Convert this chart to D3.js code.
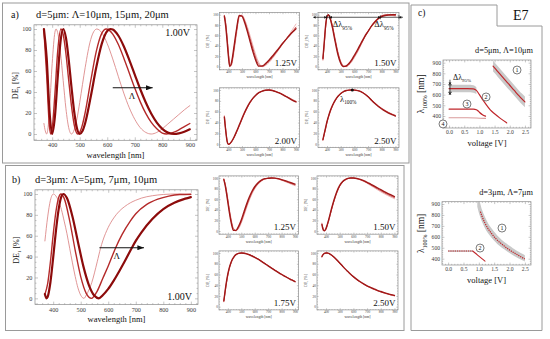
<!DOCTYPE html>
<html>
<head>
<meta charset="utf-8">
<script src="https://cdn.jsdelivr.net/npm/d3@7"></script>
<style>
  body { margin: 0; background: #fff; }
  svg { display: block; }
</style>
</head>
<body>
<svg id="fig" width="550" height="339"></svg>
<script>
// ---------- data ----------
// panel a, d=5um, 1.00V (three grating periods)
const aWlThin  = [370,375,380,385,390,400,410,414,420,430,440,450,460,470,480,490,500,510,520,540,562,580,600,620,640,660,680,700,720,740,760,780,800,820,840,860,880,900];
const aDeThin  = [10,3,0,6,22,67,97,100,96.5,78,51,24,6,0,4,14.5,30,47,63.5,90,100,96.5,86,71.5,55,39,25,14,6,1.5,0,1.5,5,9.5,14,18.5,23,27];
const aWlMid   = [370,380,390,395,400,410,420,432,440,450,460,470,480,493,500,510,520,540,560,580,596,620,640,660,680,700,720,740,760,780,800,815,840,860,880,900];
const aDeMid   = [98.5,56,7.3,0,5,38.6,78.7,100,94.8,76.4,51.2,27,8.8,0,1.6,8.9,20.6,50.5,78.4,95.8,100,95.2,85.4,72.4,58.1,43.7,30.6,19.6,11,4.9,0.8,0,1.5,4,7,10];
const aWlThick = [370,380,390,400,410,420,430,440,450,460,470,480,490,500,510,520,540,560,580,600,612,620,640,660,680,700,720,740,760,780,800,820,843,860,880,900];
const aDeThick = [100,72.6,22.8,0,16.7,53.6,87.2,100,91.7,70.9,45,21.2,5.4,0,2.8,10.5,35.4,63.3,85.8,98.1,100,99.5,93.8,83.6,70.6,56.5,42.6,30,19.2,10.8,4.9,1.3,0,0.6,2.2,4.5];

// panel b, d=3um, 1.00V
const bWlThin  = [370,380,390,401,410,420,430,440,450,460,470,480,490,500,512,520,540,560,572,580,600,620,640,660,680,700,720,760,800,850,900];
const bDeThin  = [55,78,94,100,98,93,85,74,62,48,34,21,10,3,0,3,15,35,48,55,68,77,83.5,88,91.5,94,96,98.3,99.5,100,99.3];
const bWlMid   = [370,380,390,400,410,420,428,440,460,480,500,520,539,560,580,600,627,650,680,700,740,780,820,860,900];
const bDeMid   = [4,14,35,61,83,96.6,100,95.8,74.3,46,20.8,4.8,0,7,19,31,48.5,61,74,81,90,95,98,99.5,99.8];
const bWlThick = [370,376,380,390,400,410,420,430,437,450,470,490,510,530,550,566,580,600,620,640,660,686,700,720,760,800,840,880,900];
const bDeThick = [4,0,1.4,15.4,39,64.6,85.5,97.6,100,96.1,78.4,54,30.4,12.5,2.4,0,3,9,17,26,35.5,48.5,55,63,76,85.5,91.5,95.5,97];

// small plots share one wavelength grid
const wlSmall = [370,380,390,400,410,420,430,440,460,480,500,520,540,560,580,600,625,650,675,700,725,750,775,800,825,850,875,900];
const a125Thick = [97,78,50,20,0.3,5,18,36,72,98.5,97,85,68,49,30,14,1,1.5,6,12.5,20,28,36,44.5,52,59.5,66.5,73];
const a125Mid   = [98,82,55,25,2,3,14,31,68,97,98,88,72,54,36,19,4,0.5,4,10,17.5,26,35,44,52.5,60.5,68,76];
const a125Thin  = [99,86,61,31,5,1.5,10,26,62,94,99.5,91,77,60,42,25,8,0,2.5,8,15.5,24,33.5,43,52.5,62,72,82];
const a150Thick = [16,48,80,97,99.8,95,86,74.5,47.5,23,6.7,0.2,1.5,6,13,22,33.5,46,58,68,78,86,92.5,96.5,98.5,99.5,100,100];
const a150Mid   = [14,45,78,96,99.9,96,87,76.5,50.5,26,9,1,0.5,4.5,11.5,19.5,31,44,57,68,78.5,87,93.5,97.5,99.3,99.8,99.5,99];
const a150Thin  = [12,42,75,95,100,97,89,79,54,29,11,2,0,3,9,17.5,29,42.5,56,68,79,88,94.5,98.5,100,99.5,98.5,97];
const a200Thick = [50,25,6,0,1.2,4.1,8,12.5,23.5,35.5,47.7,59,69,77.5,84.6,90,95,98,99.6,100,99,97,94.5,91.5,88,84.5,81,78];
const a200Mid   = [51,26.5,7,0.2,0.8,3.5,7.2,11.7,22.5,34.2,46.3,57.7,68,76.7,84,89.5,94.7,97.7,99.5,100,99.2,97.3,94.8,91.9,88.6,85.1,81.7,78.7];
const a200Thin  = [53,28,8,0.5,0.5,3,6.5,11,21.5,33,45,56.5,67,76,83.5,89,94.5,97.5,99.4,100,99.3,97.5,95.2,92.4,89.2,85.8,82.5,79.5];
const a250Thick = [9,20,31,42,51,59,66,72,81.5,88.5,93.5,97,99,99.8,100,99.8,98.8,96.5,92.5,87.5,81,75,69.5,65,61,57.5,54.5,52];
const a250Mid   = [8,19,30,41,50,58,65,71,80.7,88,93,96.7,98.8,99.7,100,99.8,98.9,96.7,92.9,88,81.7,75.8,70.3,65.8,61.8,58.3,55.3,52.8];
const a250Thin  = [7,18,29,40,49,57,64,70,80,87.5,92.5,96.4,98.6,99.6,100,99.9,99,97,93.3,88.6,82.4,76.6,71.1,66.6,62.6,59.1,56.1,53.6];
const b125Thick = [97,86,71,54,37,22,10,1.5,1.2,9,21,36,51,64,75,83.5,91,96,98.8,99.5,100,99.8,98.8,97,95,92.8,90.6,88.5];
const b125Mid   = [98,88,74,57.5,40.5,25.5,13,4.5,0.8,6.5,18,32.5,47.5,61,72.5,81.5,89.5,95,98.2,99.5,100,99.6,98.4,96.4,94.2,91.8,89.4,87];
const b125Thin  = [99,90,77,61,44,29,16,6.5,0.3,4.5,15,29,44,58,70,79.5,88,94,97.8,99.4,100,99.4,98,95.8,93.3,90.7,88,85.5];
const b150Thick = [12,2,0.5,5,13,22,32,42,60,75,86,93,97,99.3,100,100,99.2,97.5,95,92,88.5,85,81.5,78,74.5,71,68,65];
const b150Mid   = [13.5,3.5,0.7,4,11.5,20.5,30.5,40.5,58.5,73.5,85,92.2,96.5,99,100,99.9,99,97,94.2,91,87.2,83.5,79.8,76,72.5,69,66,63];
const b150Thin  = [15,5,1,3,10,19,29,39,57,72,84,91.5,96,98.8,100,99.8,98.8,96.5,93.5,90,86,82,78,74,70.5,67,64,61];
const b175Thick = [11,30,47,61,72,80,86.5,91,97,99.5,100,99.6,98.5,96.8,94.5,92,88.5,84.5,80.3,76,71.8,67.7,63.8,60,56.5,53,49.8,46.5];
const b175Mid   = [10,28.5,45.5,59.5,70.8,79,85.8,90.5,96.8,99.4,100,99.7,98.6,97,94.8,92.3,88.8,84.8,80.6,76.4,72.2,68.1,64.2,60.4,56.8,53.4,50.1,46.9];
const b175Thin  = [9,27,44,58,69.5,78,85,90,96.5,99.3,100,99.8,98.8,97.2,95,92.6,89.2,85.2,81,76.8,72.6,68.5,64.6,60.8,57.2,53.8,50.5,47.3];
const b250Thick = [93,97.5,99.5,100,100,99.3,98,96.3,92,87,81.5,76,70.5,65.5,60.5,56,51,46.5,42.5,39,36,33,30.5,28.3,26.2,24.3,22.5,21];
const b250Mid   = [94,98,99.7,100,99.9,99.1,97.7,96,91.6,86.6,81,75.5,70,65,60,55.5,50.5,46,42,38.5,35.5,32.5,30,27.8,25.7,23.8,22,20.5];
const b250Thin  = [95,98.5,99.8,100,99.8,98.9,97.4,95.6,91.2,86.1,80.5,75,69.5,64.5,59.5,55,50,45.5,41.5,38,35,32,29.5,27.3,25.2,23.3,21.5,20];

// panel c, upper (d=5um, period 10um): lambda_100% vs voltage
const c1V    = [1.45,1.5,1.6,1.7,1.8,1.9,2.0,2.1,2.2,2.3,2.4,2.5];
const c1Lam  = [868,852,818,785,752,720,688,655,622,590,560,532];
const c1Lo   = [818,802,768,735,702,670,638,605,572,540,510,482];
const c1Hi   = [918,902,868,835,802,770,738,705,672,640,610,582];
const c2V    = [0,0.2,0.4,0.6,0.8,0.9,1.0,1.1,1.2,1.35,1.5,1.7,1.9];
const c2Lam  = [656,656,656,656,655,640,600,555,515,460,420,375,335];
const c2BandV  = [0,0.2,0.4,0.6,0.8,0.9];
const c2BandLo = [622,622,622,622,618,606];
const c2BandHi = [692,692,692,692,688,670];
const c3V    = [0,0.2,0.4,0.6,0.8,0.9,0.95,1.0,1.1,1.2];
const c3Lam  = [465,465,465,465,464,458,448,435,412,398];
const c4V    = [0,0.3,0.6,0.9,1.2];
const c4Lam  = [383,383,383,381,377];
// panel c, lower (d=3um, period 7um)
const d1V    = [1.05,1.1,1.2,1.3,1.4,1.5,1.6,1.7,1.8,1.9,2.0,2.1,2.2,2.3,2.4,2.5];
const d1Lam  = [830,790,725,675,635,600,570,545,522,500,480,462,445,428,412,397];
const d1BandV  = [0.95,1.0,1.1,1.2,1.3,1.4,1.5,1.6,1.7,1.8,1.9,2.0,2.1,2.2,2.3,2.4,2.5];
const d1BandLo = [875,820,740,678,632,595,563,535,512,490,470,451,434,418,402,387,373];
const d1BandHi = [930,930,850,780,725,682,645,612,585,560,538,517,498,480,463,447,432];
const d2FlatV  = [0,0.2,0.4,0.6,0.8];
const d2FlatLam = [470,470,470,470,470];
const d2DropV  = [0.8,0.9,1.0,1.1,1.2];
const d2DropLam = [470,447,423,400,378];

// ticks
const wlTicks  = [400,500,600,700,800,900];
const wlMinor  = [340,360,380,420,440,460,480,520,540,560,580,620,640,660,680,720,740,760,780,820,840,860,880,920];
const deTicks  = [0,20,40,60,80,100];
const deMinor  = [-5,5,10,15,25,30,35,45,50,55,65,70,75,85,90,95];
const vTicks   = [0,0.5,1,1.5,2,2.5];
const vMinor   = [-0.1,0.1,0.2,0.3,0.4,0.6,0.7,0.8,0.9,1.1,1.2,1.3,1.4,1.6,1.7,1.8,1.9,2.1,2.2,2.3,2.4,2.6];
const lamTicks = [400,500,600,700,800,900];
const lamMinor = [300,320,340,360,380,420,440,460,480,520,540,560,580,620,640,660,680,720,740,760,780,820,840,860,880,920];

// ---------- drawing ----------
const FONT = "'Liberation Serif','DejaVu Serif',serif";
const frameCol = "#8c8c8c";
const cThin = "#dc8a8a", cMid = "#b42a2a", cThick = "#8c0b0b";
const sThin = "#eba3a3", sMid = "#c43a3a", sThick = "#a01818";
const cRed = "#c0262b", cBand = "#c9c9c9";

const svg = d3.select("#fig").attr("font-family", FONT);
const defs = svg.append("defs");
defs.append("marker").attr("id", "arr")
  .attr("viewBox", "0 0 8 6").attr("refX", 8).attr("refY", 3)
  .attr("markerWidth", 7).attr("markerHeight", 5).attr("markerUnits", "userSpaceOnUse")
  .attr("orient", "auto")
  .append("path").attr("d", "M0,0L8,3L0,6Z").attr("fill", "#111");

// boxes
const boxStroke = "#9a9a9a";
svg.append("rect").attr("x", 2.5).attr("y", 3).attr("width", 406.5).attr("height", 160)
  .attr("fill", "none").attr("stroke", boxStroke);
svg.append("rect").attr("x", 5.5).attr("y", 165.5).attr("width", 398.5).attr("height", 165)
  .attr("fill", "none").attr("stroke", boxStroke);
svg.append("path").attr("d", "M411,5H497V26H542V330.5H411Z")
  .attr("fill", "none").attr("stroke", boxStroke);

let clipN = 0;
function makePlot(p) {
  const x = d3.scaleLinear().domain(p.xd).range([p.x0, p.x1]);
  const y = d3.scaleLinear().domain(p.yd).range([p.y1, p.y0]);
  const id = "clip" + (clipN++);
  defs.append("clipPath").attr("id", id).append("rect")
    .attr("x", p.x0).attr("y", p.y0).attr("width", p.x1 - p.x0).attr("height", p.y1 - p.y0);
  const g = svg.append("g");
  const none = () => "";
  const put = (axis, sc, tx, ty, vals, len, fmt) => {
    const d = sc.domain();
    const a = g.append("g").attr("transform", `translate(${tx},${ty})`)
      .call(axis.tickValues(vals.filter(v => v >= d[0] && v <= d[1]))
        .tickSize(-len).tickSizeOuter(0).tickPadding(p.pad).tickFormat(fmt));
    a.select(".domain").remove();
    a.selectAll("line").attr("stroke", frameCol).attr("stroke-width", 0.5);
    a.selectAll("text").attr("font-family", FONT).attr("font-size", p.fs).attr("fill", "#3a3a3a");
  };
  put(d3.axisBottom(x), x, 0, p.y1, p.xt, p.tl, p.xf);
  put(d3.axisBottom(x), x, 0, p.y1, p.xm, p.tl / 2, none);
  put(d3.axisTop(x), x, 0, p.y0, p.xt, p.tl, none);
  put(d3.axisTop(x), x, 0, p.y0, p.xm, p.tl / 2, none);
  put(d3.axisLeft(y), y, p.x0, 0, p.yt, p.tl, p.yf);
  put(d3.axisLeft(y), y, p.x0, 0, p.ym, p.tl / 2, none);
  put(d3.axisRight(y), y, p.x1, 0, p.yt, p.tl, none);
  put(d3.axisRight(y), y, p.x1, 0, p.ym, p.tl / 2, none);
  const data = g.append("g").attr("clip-path", `url(#${id})`);
  g.append("rect").attr("x", p.x0).attr("y", p.y0)
    .attr("width", p.x1 - p.x0).attr("height", p.y1 - p.y0)
    .attr("fill", "none").attr("stroke", frameCol).attr("stroke-width", 0.7);
  return { x, y, g, data, p };
}

function line(P, xs, ys, col, w, dash) {
  const pts = xs.map((v, i) => [v, ys[i]]);
  const path = P.data.append("path")
    .attr("d", d3.line().x(d => P.x(d[0])).y(d => P.y(d[1])).curve(d3.curveMonotoneX)(pts))
    .attr("fill", "none").attr("stroke", col).attr("stroke-width", w)
    .attr("stroke-linejoin", "round").attr("stroke-linecap", "round");
  if (dash) path.attr("stroke-dasharray", dash).attr("stroke-linecap", "butt");
}

function band(P, xs, lo, hi, col) {
  const pts = xs.map((v, i) => [v, lo[i], hi[i]]);
  P.data.append("path")
    .attr("d", d3.area().x(d => P.x(d[0])).y0(d => P.y(d[1])).y1(d => P.y(d[2])).curve(d3.curveMonotoneX)(pts))
    .attr("fill", col);
}

// text with subscript parts: [[string, isSub], ...]
function rich(parent, x, y, parts, size, opt) {
  opt = opt || {};
  const t = parent.append("text").attr("x", x).attr("y", y)
    .attr("font-size", size).attr("fill", opt.fill || "#111");
  if (opt.anchor) t.attr("text-anchor", opt.anchor);
  if (opt.rotate) t.attr("transform", `rotate(-90,${x},${y})`);
  let shift = 0;
  parts.forEach(([s, sub]) => {
    const dy = sub ? size * 0.3 : 0;
    t.append("tspan").attr("dy", dy - shift).attr("font-size", sub ? size * 0.62 : size).text(s);
    shift = dy;
  });
  return t;
}

function tri(g, x, y, dir, s) {
  // small filled arrowhead with tip at (x,y)
  const pts = {
    right: [[x, y], [x - s * 1.6, y - s], [x - s * 1.6, y + s]],
    left:  [[x, y], [x + s * 1.6, y - s], [x + s * 1.6, y + s]],
    down:  [[x, y], [x - s, y - s * 1.6], [x + s, y - s * 1.6]],
    up:    [[x, y], [x - s, y + s * 1.6], [x + s, y + s * 1.6]]
  }[dir];
  g.append("path").attr("d", "M" + pts.join("L") + "Z").attr("fill", "#111");
}

function circled(P, vx, vy, label) {
  const cx = P.x(vx), cy = P.y(vy);
  P.g.append("circle").attr("cx", cx).attr("cy", cy).attr("r", 4)
    .attr("fill", "#fff").attr("stroke", "#222").attr("stroke-width", 0.6);
  P.g.append("text").attr("x", cx).attr("y", cy + 2.1).attr("text-anchor", "middle")
    .attr("font-size", 6).attr("fill", "#111").text(label);
}

// ---------- main plots ----------
function mainPlot(x0, x1, y0, y1) {
  const P = makePlot({ x0, x1, y0, y1, xd: [334, 926], yd: [-6, 104],
    xt: wlTicks, xm: wlMinor, yt: deTicks, ym: deMinor,
    fs: 6.2, pad: 2.6, tl: 3, xf: d3.format("d"), yf: d3.format("d") });
  rich(svg, (x0 + x1) / 2, y1 + 17.5, [["wavelength [nm]"]], 8.5, { anchor: "middle" });
  rich(svg, x0 - 16, (y0 + y1) / 2 + 3, [["DE"], ["1", true], [" [%]"]], 8, { anchor: "middle", rotate: true });
  return P;
}

const A = mainPlot(34, 197, 24.8, 140.3);
line(A, aWlThin, aDeThin, cThin, 0.9);
line(A, aWlMid, aDeMid, cMid, 1.4);
line(A, aWlThick, aDeThick, cThick, 2.2);
A.g.append("line").attr("x1", A.x(620)).attr("x2", A.x(765)).attr("y1", A.y(44)).attr("y2", A.y(44))
  .attr("stroke", "#111").attr("stroke-width", 1.1).attr("marker-end", "url(#arr)");
rich(A.g, A.x(690), A.y(33), [["Λ"]], 9, { anchor: "middle" });
rich(A.g, 190, 35.8, [["1.00V"]], 10, { anchor: "end" });
rich(svg, 11, 18, [["a)"]], 10);
rich(svg, 36, 18, [["d=5μm: Λ=10μm, 15μm, 20μm"]], 10.5);

const B = mainPlot(35, 198, 189.8, 304.6);
line(B, bWlThin, bDeThin, cThin, 0.9);
line(B, bWlMid, bDeMid, cMid, 1.4);
line(B, bWlThick, bDeThick, cThick, 2.2);
B.g.append("line").attr("x1", B.x(568)).attr("x2", B.x(730)).attr("y1", B.y(48.5)).attr("y2", B.y(48.5))
  .attr("stroke", "#111").attr("stroke-width", 1.1).attr("marker-end", "url(#arr)");
rich(B.g, B.x(631), B.y(37.5), [["Λ"]], 9, { anchor: "middle" });
rich(B.g, 192, 300, [["1.00V"]], 10, { anchor: "end" });
rich(svg, 12, 183, [["b)"]], 10);
rich(svg, 35, 183, [["d=3μm: Λ=5μm, 7μm, 10μm"]], 10.5);

// ---------- small plots ----------
function smallPlot(x0, x1, y0, y1, thin, mid, thick, vlabel) {
  const P = makePlot({ x0, x1, y0, y1, xd: [334, 926], yd: [-6, 104],
    xt: wlTicks, xm: wlMinor, yt: deTicks, ym: deMinor,
    fs: 3.4, pad: 1.1, tl: 1.6, xf: d3.format("d"), yf: d3.format("d") });
  line(P, wlSmall, thin, sThin, 0.8);
  line(P, wlSmall, mid, sMid, 0.9);
  line(P, wlSmall, thick, sThick, 1.4);
  rich(P.g, x1 - 2.5, y1 - 4, [[vlabel]], 9, { anchor: "end" });
  rich(svg, (x0 + x1) / 2, y1 + 8.5, [["wavelength [nm]"]], 3.8, { anchor: "middle", fill: "#333" });
  rich(svg, x0 - 10, (y0 + y1) / 2, [["DE"], ["1", true], [" [%]"]], 3.8, { anchor: "middle", rotate: true, fill: "#333" });
  return P;
}

smallPlot(219.5, 299.5, 12.6, 69.8, a125Thin, a125Mid, a125Thick, "1.25V");
const A150 = smallPlot(318, 399, 12.6, 69.8, a150Thin, a150Mid, a150Thick, "1.50V");
smallPlot(219.5, 299.5, 87.8, 147.6, a200Thin, a200Mid, a200Thick, "2.00V");
const A250 = smallPlot(318, 399, 87.8, 147.6, a250Thin, a250Mid, a250Thick, "2.50V");
smallPlot(219, 298.5, 175.9, 234.2, b125Thin, b125Mid, b125Thick, "1.25V");
smallPlot(317, 398, 175.9, 234.2, b150Thin, b150Mid, b150Thick, "1.50V");
smallPlot(219, 298.5, 250.9, 309.9, b175Thin, b175Mid, b175Thick, "1.75V");
smallPlot(317, 398, 250.9, 309.9, b250Thin, b250Mid, b250Thick, "2.50V");

// bandwidth annotation at 95 %
{
  const P = A150, yy = P.y(95);
  P.g.append("line").attr("x1", P.x(300)).attr("x2", P.x(955)).attr("y1", yy).attr("y2", yy)
    .attr("stroke", "#111").attr("stroke-width", 0.7);
  tri(P.g, P.x(300), yy, "left", 1.4);
  tri(P.g, P.x(396), yy, "right", 1.4);
  tri(P.g, P.x(420), yy, "left", 1.4);
  tri(P.g, P.x(790), yy, "right", 1.4);
  tri(P.g, P.x(926), yy, "left", 1.4);
  [396, 420, 790, 926].forEach(v => P.g.append("line").attr("x1", P.x(v)).attr("x2", P.x(v))
    .attr("y1", yy - 2).attr("y2", yy + 2).attr("stroke", "#111").attr("stroke-width", 0.6));
  rich(P.g, P.x(442), P.y(75.5), [["Δλ"], ["95%", true]], 8.5);
  rich(P.g, P.x(746), P.y(75.5), [["Δλ"], ["95%", true]], 8.5);
}
{
  const P = A250;
  P.g.append("circle").attr("cx", P.x(585)).attr("cy", P.y(100)).attr("r", 1.5).attr("fill", "#111");
  rich(P.g, P.x(495), P.y(78.5), [["λ"], ["100%", true]], 8.5);
}

// ---------- panel c ----------
rich(svg, 418, 16, [["c)"]], 9.5);
rich(svg, 513, 20, [["E7"]], 14);

function cPlot(x0, x1, y0, y1, yd, title, tY) {
  const P = makePlot({ x0, x1, y0, y1, xd: [-0.2, 2.7], yd,
    xt: vTicks, xm: vMinor, yt: lamTicks, ym: lamMinor,
    fs: 5.6, pad: 2, tl: 2.4, xf: d3.format(".1f"), yf: d3.format("d") });
  rich(svg, 533, tY, [[title]], 8.3, { anchor: "end" });
  rich(svg, (x0 + x1) / 2, y1 + 18, [["voltage [V]"]], 8.5, { anchor: "middle" });
  rich(svg, 424, (y0 + y1) / 2, [["λ"], ["100%", true], [" [nm]"]], 9.5, { anchor: "middle", rotate: true });
  return P;
}

const C1 = cPlot(443, 531, 60, 128, [287, 925], "d=5μm, Λ=10μm", 53);
band(C1, c1V, c1Lo, c1Hi, cBand);
band(C1, c2BandV, c2BandLo, c2BandHi, cBand);
line(C1, c1V, c1Lam, cRed, 1.2);
line(C1, c2V, c2Lam, cRed, 1.2);
line(C1, c3V, c3Lam, cRed, 1.3);
line(C1, c4V, c4Lam, "#d99a9a", 1.2);
{
  const P = C1, xx = P.x(0.03);
  P.g.append("line").attr("x1", xx).attr("x2", xx).attr("y1", P.y(740)).attr("y2", P.y(600))
    .attr("stroke", "#111").attr("stroke-width", 0.7);
  tri(P.g, xx, P.y(692), "down", 1.4);
  tri(P.g, xx, P.y(622), "up", 1.4);
  [692, 622].forEach(v => P.g.append("line").attr("x1", xx - 2).attr("x2", xx + 2)
    .attr("y1", P.y(v)).attr("y2", P.y(v)).attr("stroke", "#111").attr("stroke-width", 0.6));
  rich(P.g, P.x(0.13), P.y(737), [["Δλ"], ["95%", true]], 8);
}
circled(C1, 2.24, 831, "1");
circled(C1, 1.22, 578, "2");
circled(C1, 0.59, 512, "3");
circled(C1, -0.2, 325, "4");

const C2 = cPlot(442, 531, 201.7, 265, [342, 921], "d=3μm, Λ=7μm", 195);
band(C2, d1BandV, d1BandLo, d1BandHi, cBand);
band(C2, d2FlatV, d2FlatLam.map(v => v - 8), d2FlatLam.map(v => v + 8), cBand);
line(C2, d1V, d1Lam, cRed, 1.2, "1.3,0.9");
line(C2, d2FlatV, d2FlatLam, cRed, 1.2, "1.3,0.9");
line(C2, d2DropV, d2DropLam, cRed, 1.1);
circled(C2, 1.755, 680, "1");
circled(C2, 1.04, 497, "2");
</script>
</body>
</html>
